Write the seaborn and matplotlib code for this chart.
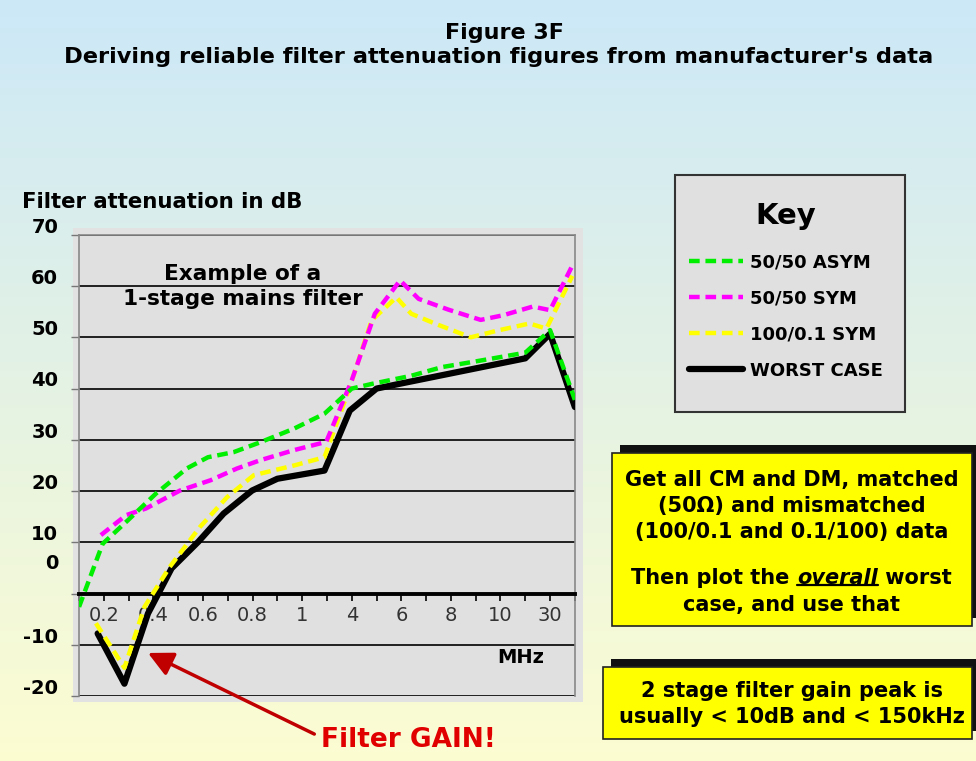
import numpy as np
import pandas as pd
import seaborn as sns
import matplotlib.pyplot as plt
from matplotlib.patches import Rectangle
from matplotlib.lines import Line2D
from matplotlib.transforms import ScaledTranslation


# Frequency axis (MHz) - category positions on the chart scale
freq_pos = [1, 3, 5, 7, 9, 11, 13, 15, 17, 19]
freq_labels = ['0.2', '0.4', '0.6', '0.8', '1', '4', '6', '8', '10', '30']

# dB axis
db_ticks = [-20, -10, 0, 10, 20, 30, 40, 50, 60, 70]

# 50/50 ASYM
asym_x = [0.0, 0.95, 1.97, 3.1, 4.34, 5.2, 6.24, 7.3, 8.68, 9.9, 11.0, 11.8, 13.4, 14.65, 16.0, 18.0, 19.0, 20.0]
asym_db = [-2.6, 9.7, 14.3, 19.5, 24.4, 26.6, 27.6, 29.5, 32.2, 35.1, 40.0, 40.9, 42.5, 44.2, 45.3, 47.0, 51.4, 37.8]

# 50/50 SYM
sym_x = [0.88, 1.9, 2.7, 4.07, 5.3, 6.37, 7.3, 8.68, 9.97, 11.0, 11.93, 12.95, 13.7, 14.9, 16.2, 17.1, 18.3, 19.0, 19.95]
sym_db = [11.4, 15.3, 16.6, 20.1, 22.1, 24.4, 26.0, 28.0, 29.6, 41.6, 54.6, 61.1, 57.5, 55.4, 53.4, 54.3, 56.0, 55.3, 64.5]

# 100/0.1 SYM
mis_x = [0.68, 1.83, 2.64, 3.66, 4.88, 5.97, 7.05, 8.68, 9.9, 10.9, 11.8, 12.8, 13.4, 14.4, 15.8, 16.95, 18.17, 18.85, 19.9]
mis_db = [-5.8, -14.5, -2.6, 5.2, 13.0, 18.8, 23.1, 25.0, 26.6, 40.0, 53.3, 57.8, 54.6, 52.6, 50.0, 51.4, 52.7, 51.7, 62.0]

# WORST CASE
worst_x = [0.75, 1.83, 2.78, 3.73, 4.81, 5.83, 6.98, 8.0, 9.9, 10.92, 12.0, 13.0, 18.0, 19.0, 20.0]
worst_db = [-7.8, -17.6, -3.9, 4.9, 10.1, 15.6, 20.1, 22.4, 24.0, 35.7, 40.0, 41.0, 45.9, 50.7, 36.4]


sns.set_style('white')
plt.rcParams['font.family'] = ['DejaVu Sans']
plt.rcParams['text.color'] = 'black'
plt.rcParams['ytick.color'] = 'black'

fig = plt.figure(figsize=(9.76, 7.61), dpi=100)

# background gradient (light blue -> light yellow)
bg = fig.add_axes([0, 0, 1, 1], zorder=-10)
top = np.array([0.80, 0.91, 0.97])
bot = np.array([0.99, 0.99, 0.82])
t = np.linspace(0, 1, 256)[:, None]
grad = top * (1 - t) + bot * t
bg.imshow(grad[:, None, :].repeat(2, axis=1), aspect='auto', extent=[0, 1, 0, 1])
bg.set_axis_off()

# chart area behind the plot
fig.patches.append(Rectangle((0.075, 0.077), 0.522, 0.624, transform=fig.transFigure,
                             facecolor='#e2e2e2', edgecolor='none', zorder=-5))

ax = fig.add_axes([0.081, 0.0854, 0.508, 0.606])
ax.set_facecolor('#e0e0e0')

dash = (0, (2.4, 1.3))
sns.lineplot(x=worst_x, y=worst_db, ax=ax, color='black', lw=4.5, label='WORST CASE',
             estimator=None, legend=False, solid_joinstyle='round', solid_capstyle='round', zorder=3)
sns.lineplot(x=mis_x, y=mis_db, ax=ax, color='#ffff00', lw=3.2, linestyle=dash, label='100/0.1 SYM',
             estimator=None, legend=False, zorder=4)
sns.lineplot(x=sym_x, y=sym_db, ax=ax, color='#ff00ff', lw=3.2, linestyle=dash, label='50/50 SYM',
             estimator=None, legend=False, zorder=5)
sns.lineplot(x=asym_x, y=asym_db, ax=ax, color='#00ee00', lw=3.2, linestyle=dash, label='50/50 ASYM',
             estimator=None, legend=False, zorder=6)

ax.set_xlim(0, 20)
ax.set_ylim(-20, 70)
ax.set_xlabel('')
ax.set_ylabel('')

# y axis
ax.set_yticks(db_ticks)
ax.set_yticklabels([str(v) for v in db_ticks], fontsize=14, fontweight='bold')
ax.yaxis.grid(True, color='#111111', lw=1.3)
ax.xaxis.grid(False)
ax.tick_params(axis='y', left=True, length=6, width=1, color='#777777', pad=9, labelcolor='black')
for lab, v in zip(ax.get_yticklabels(), db_ticks):
    up = 23 if v == 0 else 7
    lab.set_transform(lab.get_transform() + ScaledTranslation(0, up / 72, fig.dpi_scale_trans))

# x axis sits on the 0 dB line
ax.spines['bottom'].set_position(('data', 0))
ax.spines['bottom'].set_color('black')
ax.spines['bottom'].set_linewidth(2.8)
for s in ['left', 'right', 'top']:
    ax.spines[s].set_color('#888888')
    ax.spines[s].set_linewidth(1.2)
ax.set_xticks(range(0, 21))
ax.set_xticklabels([freq_labels[freq_pos.index(i)] if i in freq_pos else '' for i in range(0, 21)],
                   fontsize=14, color='#333333')
ax.tick_params(axis='x', bottom=True, direction='out', length=5, width=1.2, color='black', pad=4)

ax.text(6.6, 59.9, 'Example of a\n1-stage mains filter', ha='center', va='center',
        fontsize=15.6, fontweight='bold', linespacing=1.35, zorder=7)
ax.text(17.8, -12.5, 'MHz', ha='center', va='center', fontsize=14, fontweight='bold')

ax.annotate('Filter GAIN!', xy=(2.78, -11.6), xytext=(13.3, -28.6), textcoords='data',
            ha='center', va='center', color='#e00000', fontsize=19, fontweight='bold',
            annotation_clip=False,
            arrowprops=dict(arrowstyle='-|>,head_length=0.5,head_width=0.25', color='#c00000', lw=2.5,
                            mutation_scale=30, shrinkA=3, shrinkB=0, relpos=(0, 0.6)))

# titles
fig.text(0.517, 0.957, 'Figure 3F', ha='center', va='center', fontsize=16, fontweight='bold')
fig.text(0.511, 0.925, "Deriving reliable filter attenuation figures from manufacturer's data",
         ha='center', va='center', fontsize=16.2, fontweight='bold')
fig.text(0.023, 0.735, 'Filter attenuation in dB', ha='left', va='center', fontsize=15.3, fontweight='bold')

# key box
fig.patches.append(Rectangle((675 / 976, 1 - 412 / 761), 230 / 976, 237 / 761, transform=fig.transFigure,
                             facecolor='#e0e0e0', edgecolor='#333333', lw=1.5, zorder=1))
handles = {h.get_label(): h for h in ax.get_lines()}
order = ['50/50 ASYM', '50/50 SYM', '100/0.1 SYM', 'WORST CASE']
leg = fig.legend([handles[k] for k in order], order, loc='upper left', bbox_to_anchor=(689 / 976, 1 - 202 / 761),
                 title='Key', frameon=False, prop={'weight': 'bold', 'size': 13},
                 title_fontproperties={'weight': 'bold', 'size': 21},
                 handlelength=3.0, labelspacing=1.0, borderpad=0, borderaxespad=0, handletextpad=0.4)
leg._legend_box.sep = 17
leg.set_zorder(2)

# yellow note boxes with dark shadow
def note_box(x0, y0, w, h):
    dx, dy = 8 / 976, 8 / 761
    fig.patches.append(Rectangle((x0 + dx, y0 + dy), w, h, transform=fig.transFigure,
                                 facecolor='#111111', edgecolor='none', zorder=1))
    fig.patches.append(Rectangle((x0, y0), w, h, transform=fig.transFigure,
                                 facecolor='#ffff00', edgecolor='#222222', lw=1.2, zorder=2))

note_box(0.627, 0.1774, 0.369, 0.2273)
note_box(0.618, 0.0289, 0.378, 0.0946)

fig.text(0.811, 1 - 506 / 761, 'Get all CM and DM, matched\n(50\u03a9) and mismatched\n(100/0.1 and 0.1/100) data',
         ha='center', va='center', fontsize=15, fontweight='bold', linespacing=1.38, zorder=3)
fig.text(0.811, 1 - 704 / 761, '2 stage filter gain peak is\nusually < 10dB and < 150kHz',
         ha='center', va='center', fontsize=15, fontweight='bold', linespacing=1.33, zorder=3)

# "Then plot the overall worst / case, and use that" with italic underlined word
renderer = fig.canvas.get_renderer()
y4 = 1 - 578 / 761
parts = [('Then plot the ', 'normal'), ('overall', 'italic'), (' worst', 'normal')]
texts = []
for s, style in parts:
    texts.append(fig.text(0, y4, s, ha='left', va='center', fontsize=15, fontweight='bold',
                          style=style, zorder=3))
widths = [tx.get_window_extent(renderer).width / fig.bbox.width for tx in texts]
x = 0.811 - sum(widths) / 2
for tx, w in zip(texts, widths):
    tx.set_x(x)
    x += w
ov = texts[1].get_window_extent(renderer).transformed(fig.transFigure.inverted())
fig.lines.append(Line2D([ov.x0, ov.x1], [ov.y0 + 0.004, ov.y0 + 0.004], transform=fig.transFigure,
                        color='black', lw=1.6, zorder=3))
fig.text(0.811, 1 - 605 / 761, 'case, and use that', ha='center', va='center', fontsize=15,
         fontweight='bold', zorder=3)

fig.savefig('out.png', dpi=100)
